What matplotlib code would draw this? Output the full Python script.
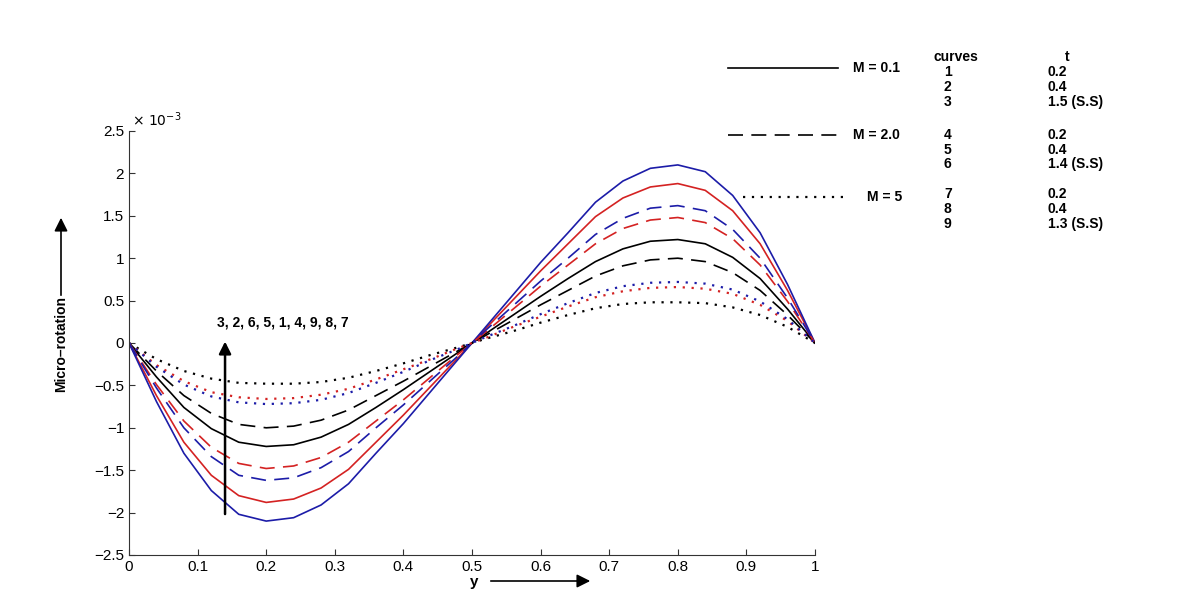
import matplotlib.pyplot as plt
from matplotlib.patches import FancyArrowPatch

plt.rcParams['font.family'] = ['Liberation Sans', 'DejaVu Sans']

# valeurs (x 1e-3)
y = [0.00, 0.04, 0.08, 0.12, 0.16, 0.20, 0.24, 0.28, 0.32, 0.36, 0.40, 0.44, 0.48,
     0.52, 0.56, 0.60, 0.64, 0.68, 0.72, 0.76, 0.80, 0.84, 0.88, 0.92, 0.96, 1.00]

c1 = [0, -0.40, -0.76, -1.01, -1.17, -1.22, -1.20, -1.11, -0.96, -0.76, -0.55, -0.33, -0.11,
      0.11, 0.33, 0.55, 0.76, 0.96, 1.11, 1.20, 1.22, 1.17, 1.01, 0.76, 0.40, 0]
c2 = [0, -0.62, -1.17, -1.56, -1.80, -1.88, -1.84, -1.71, -1.49, -1.17, -0.85, -0.51, -0.17,
      0.17, 0.51, 0.85, 1.17, 1.49, 1.71, 1.84, 1.88, 1.80, 1.56, 1.17, 0.62, 0]
c3 = [0, -0.69, -1.30, -1.74, -2.02, -2.10, -2.06, -1.91, -1.66, -1.30, -0.95, -0.57, -0.19,
      0.19, 0.57, 0.95, 1.30, 1.66, 1.91, 2.06, 2.10, 2.02, 1.74, 1.30, 0.69, 0]
c4 = [0, -0.33, -0.62, -0.83, -0.96, -1.00, -0.98, -0.91, -0.79, -0.62, -0.45, -0.27, -0.09,
      0.09, 0.27, 0.45, 0.62, 0.79, 0.91, 0.98, 1.00, 0.96, 0.83, 0.62, 0.33, 0]
c5 = [0, -0.49, -0.92, -1.23, -1.42, -1.48, -1.45, -1.35, -1.17, -0.92, -0.67, -0.40, -0.13,
      0.13, 0.40, 0.67, 0.92, 1.17, 1.35, 1.45, 1.48, 1.42, 1.23, 0.92, 0.49, 0]
c6 = [0, -0.53, -1.00, -1.34, -1.56, -1.62, -1.59, -1.47, -1.28, -1.00, -0.73, -0.44, -0.15,
      0.15, 0.44, 0.73, 1.00, 1.28, 1.47, 1.59, 1.62, 1.56, 1.34, 1.00, 0.53, 0]
c7 = [0, -0.19, -0.33, -0.42, -0.47, -0.48, -0.48, -0.46, -0.41, -0.33, -0.24, -0.14, -0.05,
      0.05, 0.14, 0.24, 0.33, 0.41, 0.46, 0.48, 0.48, 0.47, 0.42, 0.33, 0.19, 0]
c8 = [0, -0.26, -0.45, -0.58, -0.64, -0.66, -0.65, -0.61, -0.54, -0.43, -0.31, -0.19, -0.06,
      0.06, 0.19, 0.31, 0.43, 0.54, 0.61, 0.65, 0.66, 0.64, 0.58, 0.45, 0.26, 0]
c9 = [0, -0.28, -0.49, -0.63, -0.70, -0.72, -0.71, -0.67, -0.59, -0.47, -0.34, -0.20, -0.07,
      0.07, 0.20, 0.34, 0.47, 0.59, 0.67, 0.71, 0.72, 0.70, 0.63, 0.49, 0.28, 0]

courbes = [c1, c2, c3, c4, c5, c6, c7, c8, c9]
couleurs = ['black', '#d42222', '#1c1ca8'] * 3
tirets = (0, (9, 5))
points = (0, (1, 3))
styles = ['-'] * 3 + [tirets] * 3 + [points] * 3

fig = plt.figure(figsize=(11.84, 5.96), dpi=100)
ax = fig.add_axes([129 / 1184, 1 - 555 / 596, 686 / 1184, 424 / 596])

for c, col, ls in zip(courbes, couleurs, styles):
    lw = 1.6 if ls == points else 1.2
    ax.plot(y, [v * 1e-3 for v in c], color=col, linestyle=ls, linewidth=lw)

ax.set_xlim(0, 1)
ax.set_ylim(-2.5e-3, 2.5e-3)
ax.set_xticks([i / 10 for i in range(11)])
ax.set_xticklabels(['0', '0.1', '0.2', '0.3', '0.4', '0.5', '0.6', '0.7', '0.8', '0.9', '1'])
ax.set_yticks([v * 1e-3 for v in [-2.5, -2, -1.5, -1, -0.5, 0, 0.5, 1, 1.5, 2, 2.5]])
ax.set_yticklabels(['\u22122.5', '\u22122', '\u22121.5', '\u22121', '\u22120.5', '0',
                    '0.5', '1', '1.5', '2', '2.5'])
ax.tick_params(direction='in', length=4, labelsize=11, color='#333333')
for s in ['top', 'right']:
    ax.spines[s].set_visible(False)
for s in ['left', 'bottom']:
    ax.spines[s].set_color('#333333')
fig.text(132 / 1184, 1 - 129 / 596, r'$\times\ 10^{-3}$', fontsize=10, va='bottom')

# fleche dans le graphe
ax.annotate('', xy=(0.14, 0.05e-3), xytext=(0.14, -2.05e-3),
            arrowprops=dict(arrowstyle='-|>', color='black', lw=1.8, mutation_scale=18))
ax.text(0.128, 0.2e-3, '3, 2, 6, 5, 1, 4, 9, 8, 7', fontsize=10, fontweight='bold')

# etiquettes des axes avec fleches
fig.text(61 / 1184, 1 - 344 / 596, 'Micro\u2013rotation', rotation=90, ha='center', va='center',
         fontsize=10, fontweight='bold')
fig.patches.append(FancyArrowPatch(
    (61 / 1184, 1 - 298 / 596), (61 / 1184, 1 - 215 / 596), transform=fig.transFigure,
    arrowstyle='-|>', mutation_scale=20, color='black', lw=1.2))
fig.text(474 / 1184, 1 - 582 / 596, 'y', ha='center', va='center', fontsize=11, fontweight='bold')
fig.patches.append(FancyArrowPatch(
    (488 / 1184, 1 - 581 / 596), (593 / 1184, 1 - 581 / 596), transform=fig.transFigure,
    arrowstyle='-|>', mutation_scale=20, color='black', lw=1.2))

# legende
fig.add_artist(plt.Line2D([728 / 1184, 838 / 1184], [1 - 68 / 596] * 2, color='black', lw=1.2))
fig.add_artist(plt.Line2D([728 / 1184, 838 / 1184], [1 - 135 / 596] * 2, color='black', lw=1.2,
                          linestyle=tirets))
fig.add_artist(plt.Line2D([743 / 1184, 848 / 1184], [1 - 197 / 596] * 2, color='black', lw=1.6,
                          linestyle=points))
fig.text(853 / 1184, 1 - 68 / 596, 'M = 0.1', fontsize=10, fontweight='bold', va='center')
fig.text(853 / 1184, 1 - 135 / 596, 'M = 2.0', fontsize=10, fontweight='bold', va='center')
fig.text(867 / 1184, 1 - 197 / 596, 'M = 5', fontsize=10, fontweight='bold', va='center')

fig.text(933 / 1184, 1 - 57 / 596, 'curves', fontsize=10, fontweight='bold', va='center')
fig.text(1067 / 1184, 1 - 57 / 596, 't', fontsize=10, fontweight='bold', va='center', ha='center')
numeros = ['1', '2', '3', '4', '5', '6', '7', '8', '9']
temps = ['0.2', '0.4', '1.5 (S.S)', '0.2', '0.4', '1.4 (S.S)', '0.2', '0.4', '1.3 (S.S)']
lignes_y = [72, 87, 102, 135, 150, 164, 194, 209, 224]
for n, t, py in zip(numeros, temps, lignes_y):
    fig.text(944 / 1184, 1 - py / 596, n, fontsize=10, fontweight='bold', va='center')
    fig.text(1048 / 1184, 1 - py / 596, t, fontsize=10, fontweight='bold', va='center')

fig.savefig('out.png', dpi=100)
